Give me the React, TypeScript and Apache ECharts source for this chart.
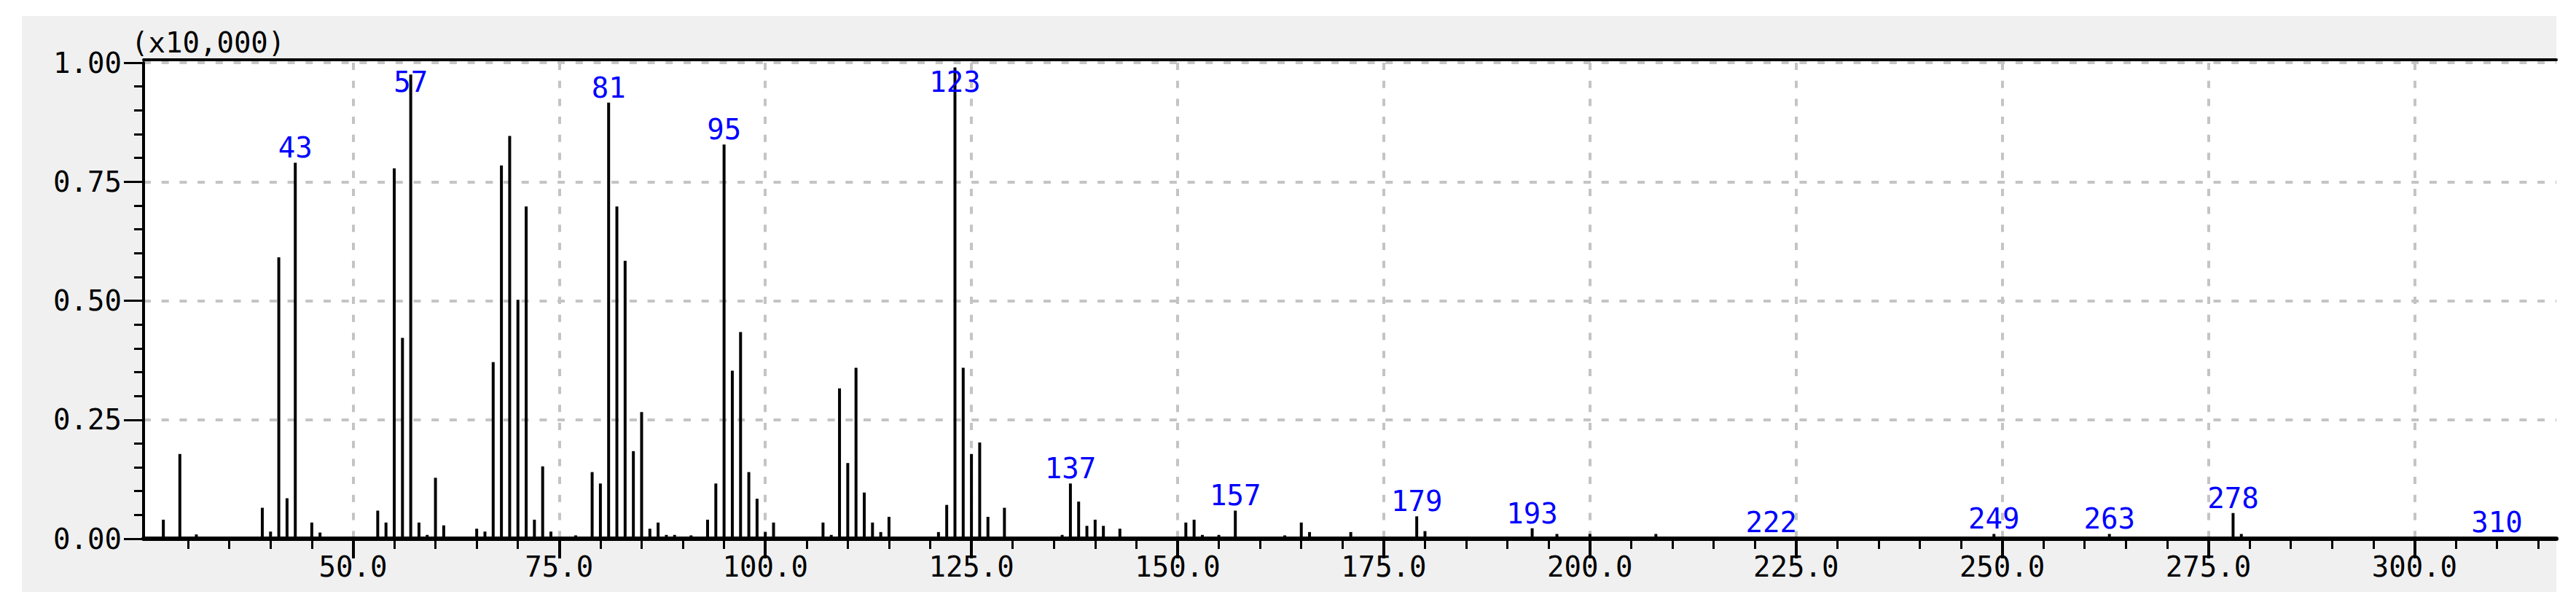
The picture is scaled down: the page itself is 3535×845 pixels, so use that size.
import React, { useEffect, useRef } from "react";
import * as echarts from "echarts";

// m/z values and intensities (x10,000)
const masses = [
  27, 29, 31, 39, 40, 41, 42, 43, 45, 46,
  53, 54, 55, 56, 57, 58, 59, 60, 61,
  65, 66, 67, 68, 69, 70, 71, 72, 73, 74, 77,
  79, 80, 81, 82, 83, 84, 85, 86, 87, 88, 89, 91,
  93, 94, 95, 96, 97, 98, 99, 100, 101,
  107, 108, 109, 110, 111, 112, 113, 114, 115,
  121, 122, 123, 124, 125, 126, 127, 129,
  136, 137, 138, 139, 140, 141, 143,
  151, 152, 153, 155, 157, 163, 165, 166, 171,
  179, 180, 193, 196, 200, 208, 222, 249, 263, 278, 279, 310,
];
const intensities = [
  0.04, 0.178, 0.009, 0.065, 0.015, 0.591, 0.085, 0.79, 0.034, 0.013,
  0.059, 0.034, 0.778, 0.422, 0.975, 0.034, 0.008, 0.128, 0.028,
  0.021, 0.015, 0.371, 0.784, 0.846, 0.502, 0.698, 0.04, 0.152, 0.015, 0.007,
  0.14, 0.116, 0.916, 0.698, 0.584, 0.184, 0.266, 0.021, 0.034, 0.008, 0.008, 0.007,
  0.04, 0.116, 0.828, 0.353, 0.434, 0.14, 0.084, 0.014, 0.034,
  0.034, 0.008, 0.316, 0.159, 0.359, 0.097, 0.034, 0.014, 0.046,
  0.014, 0.071, 0.99, 0.359, 0.178, 0.202, 0.046, 0.065,
  0.008, 0.116, 0.078, 0.027, 0.04, 0.027, 0.021,
  0.034, 0.04, 0.008, 0.008, 0.059, 0.007, 0.034, 0.014, 0.014,
  0.047, 0.016, 0.022, 0.01, 0.01, 0.01, 0.003, 0.01, 0.01, 0.054, 0.01, 0.003,
];
const labeledPeaks = [43, 57, 81, 95, 123, 137, 157, 179, 193, 222, 249, 263, 278, 310];

const xMajorTicks = [50, 75, 100, 125, 150, 175, 200, 225, 250, 275, 300];
const xMinorTicks = [
  30, 35, 40, 45, 50, 55, 60, 65, 70, 75, 80, 85, 90, 95, 100, 105, 110, 115, 120,
  125, 130, 135, 140, 145, 150, 155, 160, 165, 170, 175, 180, 185, 190, 195, 200,
  205, 210, 215, 220, 225, 230, 235, 240, 245, 250, 255, 260, 265, 270, 275, 280,
  285, 290, 295, 300, 305, 310, 315,
];
const X_MIN = 24.6;
const X_MAX = 317.2;
const Y_MIN = 0;
const Y_MAX = 1;
const Y_INTERVAL = 0.25;
const scaleNote = "(x10,000)";

const FONT = "DejaVu Sans Mono";
const FS = 39;
const GRID = { left: 197, right: 27, top: 86, bottom: 106 };
const W = 3535;
const H = 845;

export default function App() {
  const ref = useRef<HTMLDivElement>(null);
  useEffect(() => {
    if (!ref.current) return;
    const chart = echarts.init(ref.current, null, { renderer: "svg" });
    const data = masses.map((m, i) => [m, intensities[i], labeledPeaks.includes(m) ? 1 : 0]);
    const dash = { color: "#c4c4c4", width: 4, type: [10, 14.7] as any };
    chart.setOption({
      animation: false,
      backgroundColor: "#ffffff",
      grid: { ...GRID, containLabel: false },
      graphic: [
        { type: "rect", z: -20, silent: true, shape: { x: 30, y: 22, width: 3478, height: 790 }, style: { fill: "#f0f0f0" } },
        { type: "rect", z: -19, silent: true, shape: { x: GRID.left, y: GRID.top - 4, width: W - GRID.left - GRID.right, height: H - GRID.bottom - GRID.top + 4 }, style: { fill: "#ffffff" } },
        { type: "text", x: 180, y: 58, style: { text: scaleNote, fontFamily: FONT, fontSize: FS, fill: "#000", verticalAlign: "middle", align: "left" } },
      ],
      xAxis: [
        {
          type: "value", min: X_MIN, max: X_MAX, position: "bottom",
          axisLine: { show: true, onZero: false, lineStyle: { color: "#000", width: 6 } },
          axisTick: { show: true, customValues: xMinorTicks, length: 14, lineStyle: { color: "#000", width: 3 } },
          axisLabel: { show: false },
          splitLine: { show: false },
        },
        {
          type: "value", min: X_MIN, max: X_MAX, position: "bottom",
          axisLine: { show: false, onZero: false },
          axisTick: { show: true, customValues: xMajorTicks, length: 27, lineStyle: { color: "#000", width: 4 } },
          axisLabel: {
            show: true, customValues: xMajorTicks, margin: 19,
            formatter: (v: number) => v.toFixed(1),
            fontFamily: FONT, fontSize: FS, color: "#000",
          },
          splitLine: { show: true, lineStyle: dash },
        },
        {
          type: "value", min: X_MIN, max: X_MAX, position: "top", offset: 4,
          axisLine: { show: true, onZero: false, lineStyle: { color: "#000", width: 4 } },
          axisTick: { show: false }, axisLabel: { show: false }, splitLine: { show: false },
        },
      ],
      yAxis: {
        type: "value", min: Y_MIN, max: Y_MAX, interval: Y_INTERVAL,
        axisLine: { show: true, onZero: false, lineStyle: { color: "#000", width: 4 } },
        axisTick: { show: true, length: 27, lineStyle: { color: "#000", width: 3 } },
        minorTick: { show: true, splitNumber: 5, length: 13, lineStyle: { color: "#000", width: 3 } },
        axisLabel: {
          margin: 30, formatter: (v: number) => v.toFixed(2),
          fontFamily: FONT, fontSize: FS, color: "#000",
        },
        splitLine: { show: true, lineStyle: dash },
        minorSplitLine: { show: false },
      },
      series: [
        {
          type: "custom",
          xAxisIndex: 0,
          yAxisIndex: 0,
          clip: false,
          data,
          renderItem: (params: any, api: any) => {
            const x = api.value(0);
            const y = api.value(1);
            const lab = api.value(2);
            const top = api.coord([x, y]);
            const base = api.coord([x, 0]);
            const cs = params.coordSys;
            const children: any[] = [
              { type: "line", shape: { x1: base[0], y1: base[1], x2: top[0], y2: top[1] }, style: { stroke: "#000", lineWidth: 4 } },
            ];
            if (lab) {
              children.push({
                type: "text",
                x: top[0],
                y: Math.max(top[1] - 1, cs.y + 46),
                style: { text: String(x), fontFamily: FONT, fontSize: FS, fill: "#0000ff", align: "center", verticalAlign: "bottom" },
              });
            }
            return { type: "group", children };
          },
        },
      ],
    });
    return () => chart.dispose();
  }, []);
  return <div ref={ref} style={{ position: "fixed", left: 0, top: 0, width: W, height: H }} />;
}
